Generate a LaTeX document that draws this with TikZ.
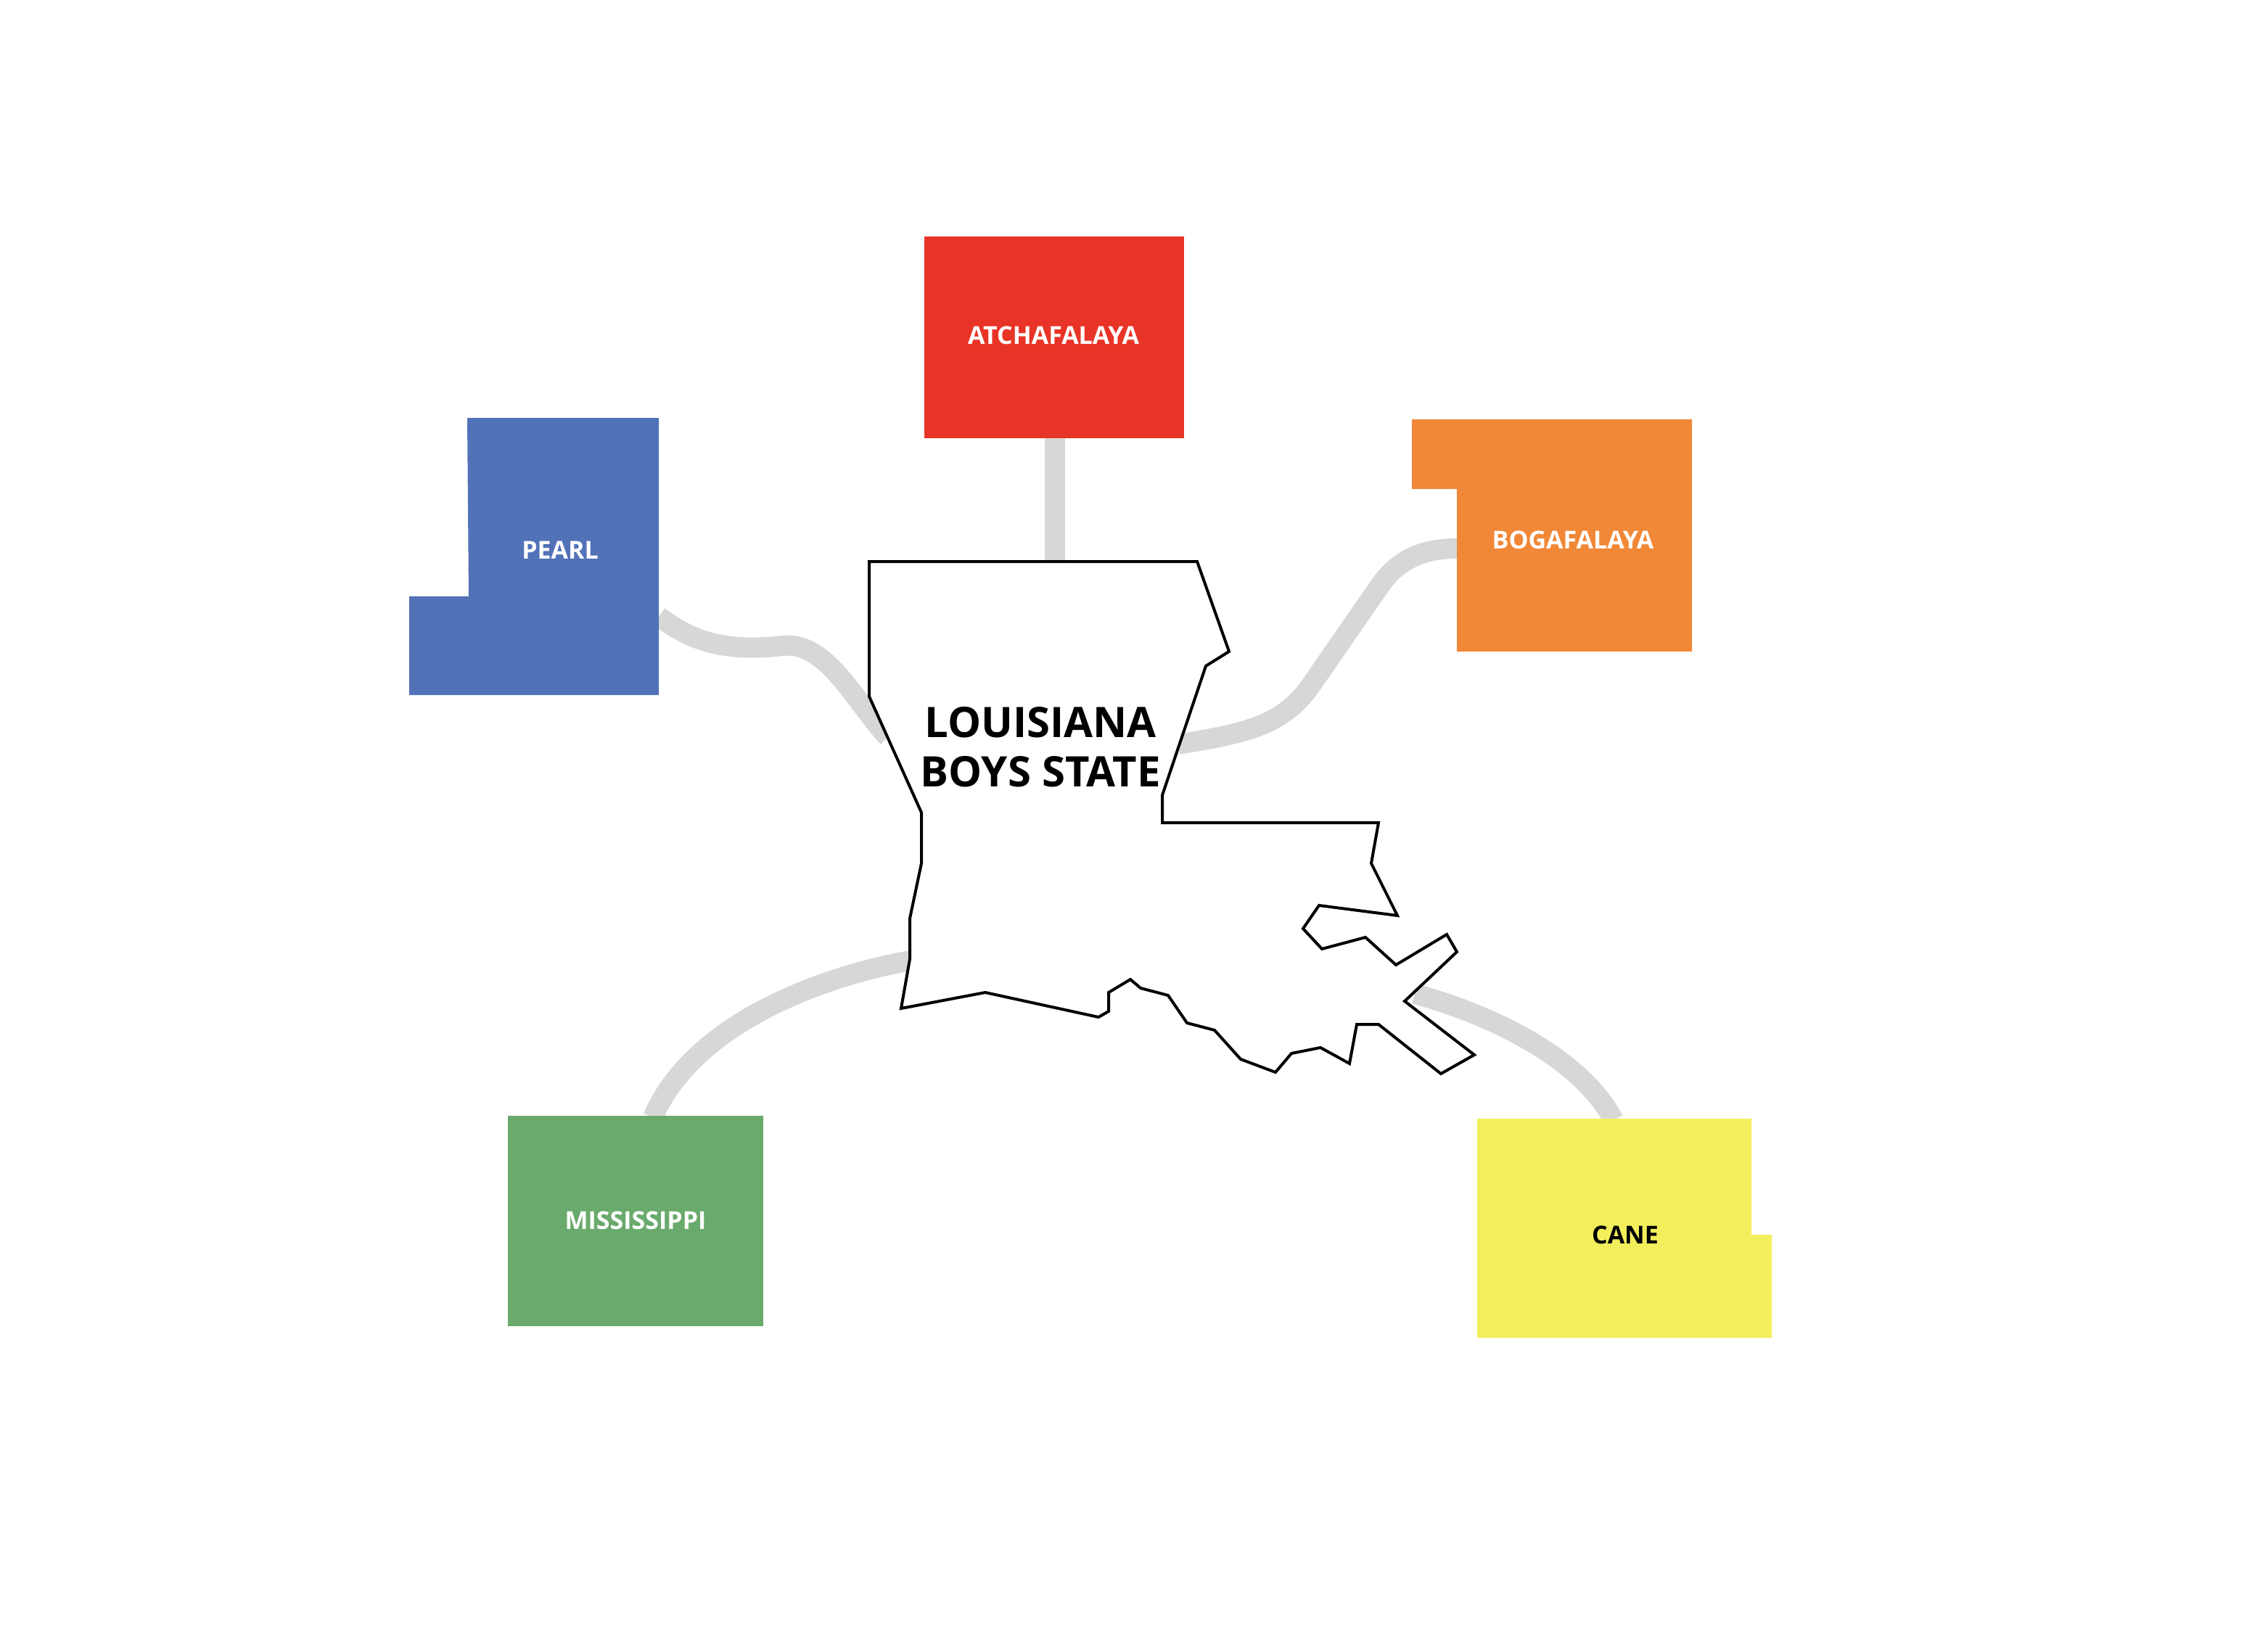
\documentclass[tikz,border=0pt]{standalone}
\usepackage{fontspec}
\setmainfont{Open Sans}
\definecolor{riverred}{RGB}{232,52,38}
\definecolor{riverblue}{RGB}{82,114,184}
\definecolor{riverorange}{RGB}{240,136,55}
\definecolor{rivergreen}{RGB}{106,170,108}
\definecolor{riveryellow}{RGB}{243,239,92}
\definecolor{linkgray}{RGB}{215,216,214}
\tikzset{link/.style={draw=linkgray, line width=14pt, line cap=butt},
  label/.style={font=\bfseries\fontsize{17}{20}\selectfont, text=white}}
\begin{document}
\begin{tikzpicture}[x=1pt,y=-1pt]
	\useasboundingbox (0,0) rectangle (1563,1136);
	% connectors
	\coordinate (a1) at (727,302); \coordinate (a2) at (727,390);
	\coordinate (p1) at (454,425); \coordinate (p2) at (612,508);
	\coordinate (b1) at (1004,378); \coordinate (b2) at (812,513);
	\coordinate (m1) at (450,770); \coordinate (m2) at (628,662);
	\coordinate (c1) at (1112,772); \coordinate (c2) at (975,685);
	\draw[link] (a1)--(a2);
	\draw[link] (p1) .. controls (475,440) and (495,450) .. (540,445) .. controls (570,442) and (590,485) .. (p2);
	\draw[link] (b1) .. controls (975,378) and (960,390) .. (950,405) -- (905,470) .. controls (885,500) and (860,505) .. (b2);
	\draw[link] (m1) .. controls (480,700) and (580,670) .. (m2);
	\draw[link] (c1) .. controls (1090,730) and (1030,700) .. (c2);
	% boxes
	\fill[riverred] (637,163) rectangle (816,302);
	\fill[riverblue] (322,288)--(454,288)--(454,479)--(282,479)--(282,411)--(323,411)--cycle;
	\fill[riverorange] (973,289)--(1166,289)--(1166,449)--(1004,449)--(1004,337)--(973,337)--cycle;
	\fill[rivergreen] (350,769) rectangle (526,914);
	\fill[riveryellow] (1018,771)--(1207,771)--(1207,851)--(1221,851)--(1221,922)--(1018,922)--cycle;
	\node[label] (atch) at (726,231) {ATCHAFALAYA};
	\node[label] (pearl) at (386,379) {PEARL};
	\node[label] (boga) at (1084,372) {BOGAFALAYA};
	\node[label] (miss) at (438,841) {MISSISSIPPI};
	\node[label, text=black] (cane) at (1120,851) {CANE};
	% state
	\draw[fill=white, line width=2pt, line join=miter] (599,387)--(825,387)--(847,449)--(831,459)--(801,548)--(801,567)--(950,567)--(945,595)--(963,631)--(909,624)--(898,640)--(911,654)--(941,646)--(962,665)--(997,644)--(1004,656)--(968,690)--(1016,727)--(993,740)--(950,706)--(935,706)--(930,733)--(910,722)--(890,726)--(879,739)--(855,730)--(837,710)--(818,705)--(805,686)--(786,681)--(779,675)--(764,684)--(764,697)--(757,701)--(679,684)--(621,695)--(627,661)--(627,633)--(635,595)--(635,560)--(599,480)--cycle;
	\node[font=\bfseries\fontsize{29}{34}\selectfont, align=center] (state) at (717,515) {LOUISIANA\\BOYS STATE};
\end{tikzpicture}
\end{document}
